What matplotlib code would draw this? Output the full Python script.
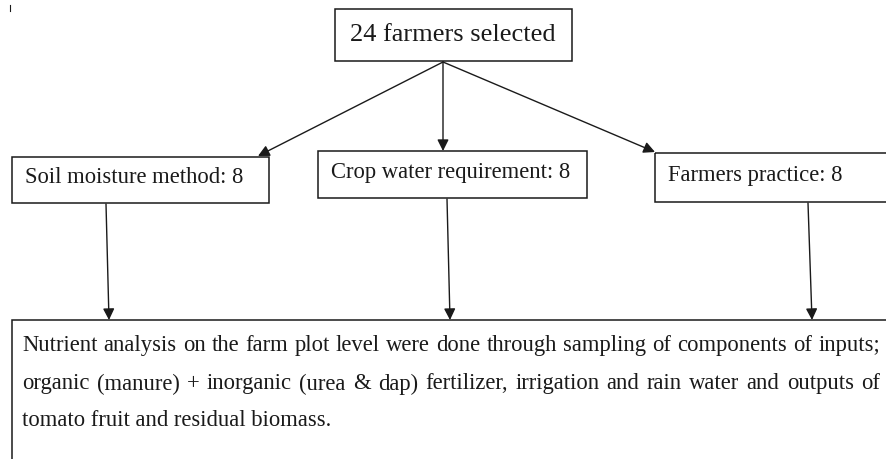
import matplotlib.pyplot as plt
from matplotlib.patches import Rectangle

# chart content
top_label = "24 farmers selected"
group_labels = ["Soil moisture method: 8", "Crop water requirement: 8", "Farmers practice: 8"]
bottom_lines = [
    "Nutrient analysis on the farm plot level were done through sampling of components of inputs;",
    "organic (manure) + inorganic (urea & dap) fertilizer, irrigation and rain water and outputs of",
    "tomato fruit and residual biomass.",
]

FONT = "Liberation Serif"
INK = "#1a1a1a"
SIZE = 16.3


def justify(ax, text, x0, x1, y, size):
    """Spread the words of one line so it fills x0..x1."""
    words = text.split(" ")
    fig = ax.figure
    r = fig.canvas.get_renderer()
    widths = []
    for w in words:
        t = ax.text(0, 0, w, fontsize=size, family=FONT)
        bb = t.get_window_extent(renderer=r)
        widths.append(bb.width)
        t.remove()
    gap = (x1 - x0 - sum(widths)) / (len(words) - 1)
    x = x0
    for w, wd in zip(words, widths):
        ax.text(x, y, w, fontsize=size, family=FONT, color=INK, va="center", ha="left")
        x += wd + gap


def main():
    fig = plt.figure(figsize=(8.87, 4.6), dpi=100)
    ax = fig.add_axes([0, 0, 1, 1])
    ax.set_xlim(0, 887)
    ax.set_ylim(460, 0)
    ax.axis("off")

    # top box
    ax.add_patch(Rectangle((335, 10), 237, 52, fill=False, ec=INK, lw=1.1))
    ax.text(453, 35, top_label, fontsize=19, family=FONT, color=INK, ha="center", va="center")

    # middle boxes (left, top, right, bottom)
    boxes = [(12, 158, 269, 204), (318, 152, 587, 199), (655, 154, 900, 203)]
    for (l, t, rt, b), lab in zip(boxes, group_labels):
        ax.add_patch(Rectangle((l, t), rt - l, b - t, fill=False, ec=INK, lw=1.1))
        ax.text(l + 13, (t + b) / 2 - 3, lab, fontsize=SIZE, family=FONT, color=INK,
                ha="left", va="center")

    arrow = dict(arrowstyle="-|>", color=INK, lw=1.0, mutation_scale=17, shrinkA=0, shrinkB=0)
    # fan out from top box
    for tip in [(258, 157), (443, 152), (655, 153)]:
        ax.annotate("", xy=tip, xytext=(443, 63), arrowprops=arrow)
    # down to bottom box
    for start, end in [((106, 205), (109, 321)), ((447, 200), (450, 321)), ((808, 204), (812, 321))]:
        ax.annotate("", xy=end, xytext=start, arrowprops=arrow)

    # bottom box (runs off the right and bottom edges)
    ax.plot([12, 12, 900], [470, 321, 321], color=INK, lw=1.1, solid_joinstyle="miter")
    fig.canvas.draw()
    justify(ax, bottom_lines[0], 22, 880, 346, SIZE)
    justify(ax, bottom_lines[1], 22, 880, 384, SIZE)
    ax.text(22, 421, bottom_lines[2], fontsize=SIZE, family=FONT, color=INK, va="center", ha="left")

    # stray mark of cropped text above
    ax.plot([10, 10], [6, 12], color=INK, lw=0.8)

    fig.savefig("out.png", dpi=100)


if __name__ == "__main__":
    main()
